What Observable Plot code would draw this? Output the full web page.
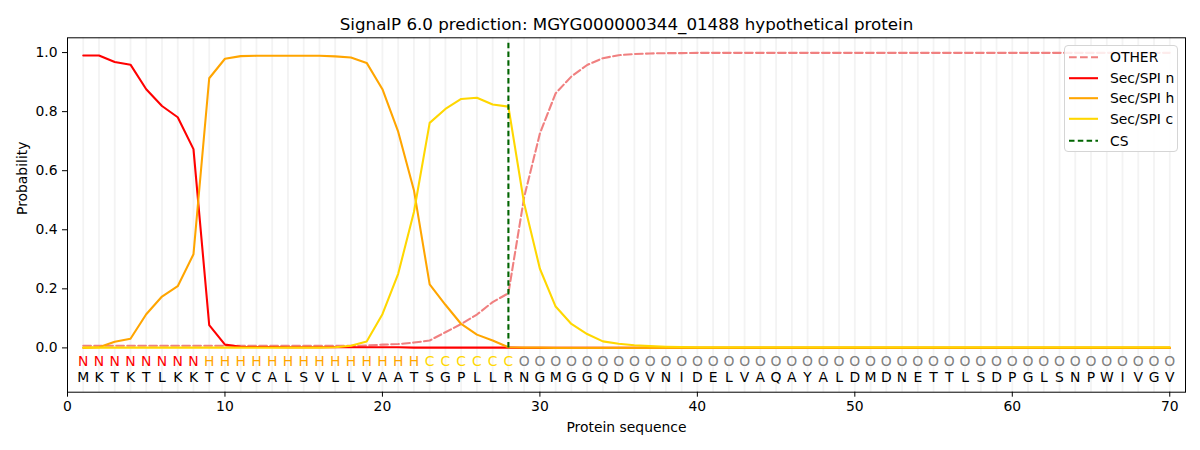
<!DOCTYPE html>
<html><head><meta charset="utf-8">
<script src="https://cdn.jsdelivr.net/npm/d3@7"></script>
<script src="https://cdn.jsdelivr.net/npm/@observablehq/plot@0.6"></script>
<style>
body{margin:0;background:#fff;font-family:"DejaVu Sans",sans-serif;}
#wrap{position:relative;width:1200px;height:450px;overflow:hidden;}
#legend{position:absolute;left:1064px;top:45px;width:114px;height:107px;border:1px solid #d5d5d5;border-radius:4px;background:rgba(255,255,255,0.85);box-sizing:border-box;}
</style></head><body><div id="wrap"></div>
<script>
const titleText = "SignalP 6.0 prediction: MGYG000000344_01488 hypothetical protein";
const xLabel = "Protein sequence";
const yLabel = "Probability";
const sequence = "MKTKTLKKTCVCALSVLLVAATSGPLLRNGMGGQDGVNIDELVAQAYALDMDNETTLSDPGLSNPWIVGV".split("");
const regions = "NNNNNNNNHHHHHHHHHHHHHHCCCCCCOOOOOOOOOOOOOOOOOOOOOOOOOOOOOOOOOOOOOOOOOO".split("");
const regionColors = {N:"#ff0000", H:"#ffa500", C:"#ffd700", O:"#808080"};
const positions = d3.range(1, 71);
const xTicks = [0,10,20,30,40,50,60,70];
const yTicks = [0,0.2,0.4,0.6,0.8,1.0];
const csPosition = 28;

const other = [0.007,0.007,0.007,0.007,0.007,0.007,0.007,0.007,0.007,0.007,
  0.007,0.007,0.007,0.007,0.007,0.007,0.007,0.007,0.008,0.011,
  0.013,0.018,0.025,0.053,0.081,0.113,0.155,0.185,0.51,0.726,
  0.862,0.919,0.958,0.981,0.991,0.995,0.997,0.998,0.998,0.999,
  0.999,0.999,0.999,0.999,0.999,0.999,0.999,0.999,0.999,0.999,
  0.999,0.999,0.999,0.999,0.999,0.999,0.999,0.999,0.999,0.999,
  0.999,0.999,0.999,0.999,0.999,0.999,0.999,0.999,0.999,0.999];
const secN = [0.99,0.99,0.968,0.959,0.876,0.819,0.781,0.673,0.077,0.011,
  0.004,0.003,0.003,0.002,0.002,0.002,0.002,0.002,0.002,0.002,
  0.002,0.001,0.001,0.001,0.001,0.001,0.001,0.001,0,0,
  0,0,0,0,0,0,0,0,0,0,0,0,0,0,0,0,0,0,0,0,
  0,0,0,0,0,0,0,0,0,0,0,0,0,0,0,0,0,0,0,0];
const secH = [0.0,0.002,0.021,0.031,0.114,0.174,0.209,0.317,0.913,0.979,
  0.988,0.989,0.989,0.989,0.989,0.989,0.987,0.983,0.965,0.876,
  0.732,0.534,0.215,0.146,0.081,0.045,0.025,0.002,0.001,0.001,
  0,0,0,0,0,0,0,0,0,0,0,0,0,0,0,0,0,0,0,0,
  0,0,0,0,0,0,0,0,0,0,0,0,0,0,0,0,0,0,0,0];
const secC = [0.001,0.001,0.001,0.001,0.001,0.001,0.001,0.001,0.001,0.001,
  0.001,0.001,0.001,0.001,0.001,0.001,0.002,0.007,0.022,0.114,
  0.251,0.46,0.762,0.809,0.843,0.847,0.824,0.817,0.489,0.268,
  0.14,0.081,0.047,0.022,0.014,0.009,0.006,0.004,0.003,0.002,
  0.002,0.002,0.002,0.002,0.002,0.002,0.002,0.002,0.002,0.002,
  0.002,0.002,0.002,0.002,0.002,0.002,0.002,0.002,0.002,0.002,
  0.002,0.002,0.002,0.002,0.002,0.002,0.002,0.002,0.002,0.002];

const seriesNames = ["OTHER","Sec/SPI n","Sec/SPI h","Sec/SPI c","CS"];
const seriesColors = ["#f08080","#ff0000","#ffa500","#ffd700","#006400"];
const seriesDashed = [true,false,false,false,true];
const seriesValues = [other, secN, secH, secC];

const dash = "7.7,3.3";
const lw = 2.08;

const lineMarks = seriesValues.map((vals, k) =>
  Plot.line(positions, {x: d => d, y: (d, i) => vals[i], stroke: seriesColors[k],
    strokeWidth: lw, strokeDasharray: seriesDashed[k] ? dash : null, curve: "linear"}));

const plot = Plot.plot({
  width: 1200, height: 450,
  marginLeft: 67, marginRight: 15, marginTop: 37.3, marginBottom: 58.3,
  x: {domain: [0, 71]},
  y: {domain: [-0.15, 1.05]},
  style: {fontFamily: "'DejaVu Sans', sans-serif", fontSize: "13.9px", background: "#fff", color: "#000"},
  marks: [
    Plot.ruleX(positions, {x: d => d, stroke: "#f3f3f3", strokeWidth: 1.8}),
    ...lineMarks,
    Plot.ruleX([csPosition], {x: d => d, y1: 0, y2: 1.04, stroke: seriesColors[4], strokeWidth: lw, strokeDasharray: "5.5,3.3"}),
    Plot.text(positions, {x: d => d, y: () => -0.046, text: (d, i) => regions[i], fill: (d, i) => regionColors[regions[i]], fontSize: 13.9, textAnchor: "middle", lineAnchor: "middle"}),
    Plot.text(positions, {x: d => d, y: () => -0.1, text: (d, i) => sequence[i], fill: "#000", fontSize: 13.9, textAnchor: "middle", lineAnchor: "middle"}),
    Plot.frame({stroke: "#000", strokeWidth: 1}),
    Plot.axisX({ticks: xTicks, tickSize: 5, tickPadding: 4, tickFormat: d => String(d), label: null, fontSize: 13.9}),
    Plot.axisY({ticks: yTicks, tickSize: 5, tickPadding: 5, tickFormat: d3.format(".1f"), label: null, fontSize: 13.9}),
    Plot.text([titleText], {frameAnchor: "top", text: d => d, dy: -8.3, lineAnchor: "bottom", fontSize: 16.7, fill: "#000"}),
    Plot.text([xLabel], {frameAnchor: "bottom", text: d => d, dy: 35.5, lineAnchor: "middle", fontSize: 13.9, fill: "#000"}),
    Plot.text([yLabel], {frameAnchor: "left", text: d => d, dx: -45, rotate: -90, lineAnchor: "middle", fontSize: 13.9, fill: "#000"})
  ]
});
const wrap = document.getElementById("wrap");
wrap.appendChild(plot);

// legend
const legend = document.createElement("div");
legend.id = "legend";
const ns = "http://www.w3.org/2000/svg";
const lsvg = document.createElementNS(ns, "svg");
lsvg.setAttribute("width", "112");
lsvg.setAttribute("height", "105");
lsvg.style.fontFamily = "'DejaVu Sans', sans-serif";
const rowY = [11.2, 32.2, 52.2, 72.8, 94.8];
seriesNames.forEach((name, k) => {
  const ln = document.createElementNS(ns, "line");
  ln.setAttribute("x1", 4); ln.setAttribute("x2", 33);
  ln.setAttribute("y1", rowY[k]); ln.setAttribute("y2", rowY[k]);
  ln.setAttribute("stroke", seriesColors[k]);
  ln.setAttribute("stroke-width", lw);
  if (seriesDashed[k]) ln.setAttribute("stroke-dasharray", k === 4 ? "5.5,3.3" : dash);
  lsvg.appendChild(ln);
  const tx = document.createElementNS(ns, "text");
  tx.setAttribute("x", 45); tx.setAttribute("y", rowY[k]);
  tx.setAttribute("dy", "0.35em");
  tx.setAttribute("font-size", "13.9");
  tx.textContent = name;
  lsvg.appendChild(tx);
});
legend.appendChild(lsvg);
wrap.appendChild(legend);
</script>
</body></html>
